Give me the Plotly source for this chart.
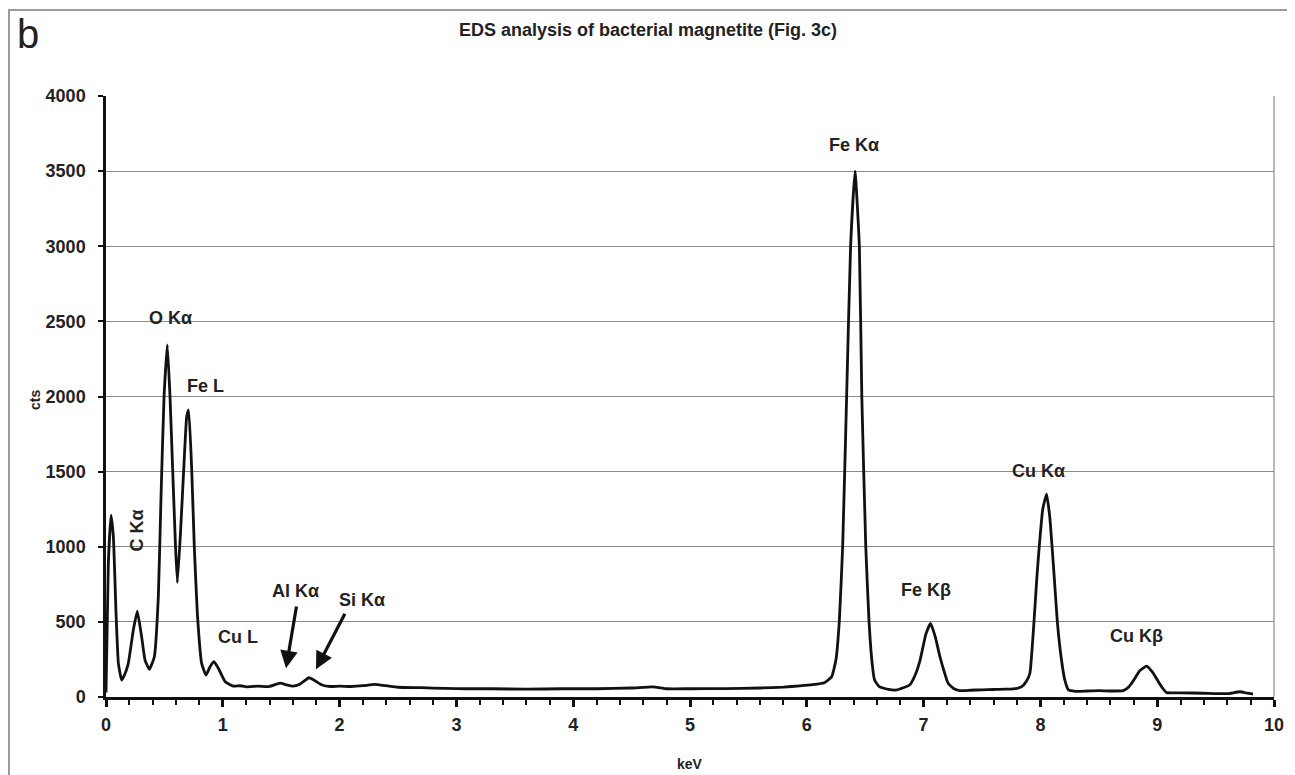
import plotly.graph_objects as go

# ---- data ----
kev = [0.00, 0.02, 0.043, 0.063, 0.086, 0.106, 0.134, 0.16, 0.191, 0.234,
       0.268, 0.305, 0.334, 0.371, 0.414, 0.448, 0.471, 0.497, 0.525, 0.548,
       0.571, 0.594, 0.611, 0.639, 0.668, 0.691, 0.708, 0.734, 0.756, 0.782,
       0.819, 0.856, 0.89, 0.925, 0.962, 1.02, 1.09, 1.15, 1.2, 1.3,
       1.4, 1.49, 1.55, 1.6, 1.66, 1.738, 1.79, 1.85, 1.92, 2.0,
       2.1, 2.2, 2.3, 2.4, 2.5, 2.7, 2.9, 3.1, 3.3, 3.6,
       3.9, 4.2, 4.5, 4.68, 4.8, 5.0, 5.3, 5.6, 5.8, 5.94,
       6.05, 6.15, 6.213, 6.25, 6.278, 6.307, 6.341, 6.375, 6.413, 6.45,
       6.471, 6.505, 6.533, 6.56, 6.58, 6.62, 6.7, 6.77, 6.88, 6.93,
       6.97, 7.02, 7.06, 7.1, 7.14, 7.18, 7.21, 7.26, 7.31, 7.4,
       7.5, 7.6, 7.7, 7.8, 7.84, 7.88, 7.91, 7.945, 7.97, 7.99,
       8.02, 8.053, 8.08, 8.10, 8.12, 8.145, 8.18, 8.21, 8.24, 8.3,
       8.4, 8.5, 8.6, 8.71, 8.76, 8.80, 8.85, 8.91, 8.96, 9.01,
       9.05, 9.08, 9.2, 9.4, 9.6, 9.71, 9.77, 9.82]
cts = [30, 890, 1211, 1067, 557, 224, 113, 150, 224, 446,
       572, 401, 246, 184, 268, 668, 1333, 1999, 2343, 1999,
       1511, 1023, 761, 1111, 1555, 1866, 1910, 1511, 1000, 557,
       224, 146, 200, 235, 191, 102, 72, 75, 68, 72,
       70, 92, 80, 72, 85, 128, 108, 80, 70, 72,
       70, 75, 84, 75, 65, 62, 57, 55, 55, 52,
       55, 55, 60, 68, 55, 55, 56, 60, 66, 74,
       82, 95, 135, 250, 500, 1000, 2000, 3000, 3500, 3000,
       2000, 1000, 500, 220, 113, 69, 50, 47, 80, 150,
       246, 420, 490, 400, 268, 160, 91, 55, 42, 45,
       48, 50, 52, 58, 69, 105, 158, 500, 800, 1000,
       1250, 1350, 1200, 1000, 780, 500, 250, 110, 47, 38,
       40, 42, 40, 42, 70, 113, 175, 206, 165, 102,
       55, 29, 28, 25, 22, 35, 25, 20]

peak_labels = ["O K\u03b1", "Fe L", "C K\u03b1", "Cu L", "Al K\u03b1", "Si K\u03b1",
               "Fe K\u03b1", "Fe K\u03b2", "Cu K\u03b1", "Cu K\u03b2"]
label_kev = [0.55, 0.85, 0.262, 1.13, 1.62, 2.19, 6.40, 7.02, 7.98, 8.82]
label_cts = [2522, 2070, 1105, 400, 705, 645, 3673, 712, 1504, 406]
label_angle = [0, 0, -90, 0, 0, 0, 0, 0, 0, 0]

# arrows: (tail keV, tail cts) -> (head keV, head cts)
arrow_tail_kev = [1.633, 2.052]
arrow_tail_cts = [612, 564]
arrow_head_kev = [1.541, 1.798]
arrow_head_cts = [191, 184]

title_text = "EDS analysis of bacterial magnetite (Fig. 3c)"
x_title = "keV"
y_title = "cts"
panel_letter = "b"

FONT = "Liberation Sans, Arial, sans-serif"
TXT = "#222222"

# page body has an 8px margin; plot area sits at x 106..1274, y 96..697 on screen
W, H = 1287, 767
ML, MT, PW, PH = 98, 88, 1168, 601
MR = W - ML - PW
MB = H - MT - PH


def px(xs):  # screen x -> paper
    return (xs - 106) / PW


def py(ys):  # screen y -> paper
    return (697 - ys) / PH


fig = go.Figure()
fig.add_trace(go.Scatter(x=kev, y=cts, mode="lines",
                         line=dict(color="#111111", width=2.8, shape="spline", smoothing=0.4),
                         hoverinfo="skip", showlegend=False))

annotations = []
for t, x, y, a in zip(peak_labels, label_kev, label_cts, label_angle):
    annotations.append(dict(x=x, y=y, xref="x", yref="y", text=t, showarrow=False,
                            textangle=a, xanchor="center", yanchor="middle",
                            font=dict(family=FONT, size=18, color=TXT, weight="bold")))
for tx, ty, hx, hy in zip(arrow_tail_kev, arrow_tail_cts, arrow_head_kev, arrow_head_cts):
    annotations.append(dict(x=hx, y=hy, ax=tx, ay=ty, xref="x", yref="y",
                            axref="x", ayref="y", text="", showarrow=True,
                            arrowhead=2, arrowsize=1.1, arrowwidth=3.2,
                            arrowcolor="#111111", standoff=0, startstandoff=0))
annotations.append(dict(x=px(647.5), y=py(30), xref="paper", yref="paper", text=title_text,
                        showarrow=False, xanchor="center", yanchor="middle",
                        font=dict(family=FONT, size=18, color=TXT, weight="bold")))
annotations.append(dict(x=px(690), y=py(764), xref="paper", yref="paper",
                        text=x_title, showarrow=False, xanchor="center", yanchor="middle",
                        font=dict(family=FONT, size=14, color=TXT, weight="bold")))
annotations.append(dict(x=px(35), y=py(400), xref="paper", yref="paper",
                        text=y_title, showarrow=False, textangle=-90,
                        xanchor="center", yanchor="middle",
                        font=dict(family=FONT, size=14, color=TXT, weight="bold")))
annotations.append(dict(x=px(28), y=py(34), xref="paper", yref="paper",
                        text=panel_letter, showarrow=False, xanchor="center", yanchor="middle",
                        font=dict(family=FONT, size=40, color=TXT)))

shapes = [
    # outer panel frame
    dict(type="rect", xref="paper", yref="paper",
         x0=px(9), x1=px(1289), y0=py(800), y1=py(10),
         line=dict(color="#9a9a9a", width=2), fillcolor="rgba(0,0,0,0)", layer="below"),
    # right border of plot area
    dict(type="line", xref="paper", yref="paper", x0=1, x1=1, y0=0, y1=1,
         line=dict(color="#8a8a8a", width=1.2), layer="below"),
]

fig.update_layout(
    width=W, height=H,
    margin=dict(l=ML, r=MR, t=MT, b=MB, pad=0),
    paper_bgcolor="white", plot_bgcolor="white",
    font=dict(family=FONT, color=TXT),
    annotations=annotations, shapes=shapes,
    showlegend=False,
)
fig.update_xaxes(range=[0, 10], dtick=1, tick0=0, showgrid=False, zeroline=False,
                 showline=True, linecolor="#111111", linewidth=2.5,
                 ticks="outside", ticklen=7, tickwidth=2.5, tickcolor="#111111",
                 minor=dict(dtick=0.2, tick0=0, ticks="outside", ticklen=5, tickwidth=2,
                            tickcolor="#111111", showgrid=False),
                 tickfont=dict(family=FONT, size=18, color=TXT, weight="bold"),
                 ticklabelstandoff=3)
fig.update_yaxes(range=[0, 4000], dtick=500, tick0=0, showgrid=True,
                 gridcolor="#8a8a8a", gridwidth=1.2, zeroline=False,
                 showline=True, linecolor="#111111", linewidth=2.5,
                 ticks="outside", ticklen=5, tickwidth=1.5, tickcolor="#111111",
                 tickfont=dict(family=FONT, size=18, color=TXT, weight="bold"),
                 ticklabelstandoff=9)

fig.write_html("out.html")
